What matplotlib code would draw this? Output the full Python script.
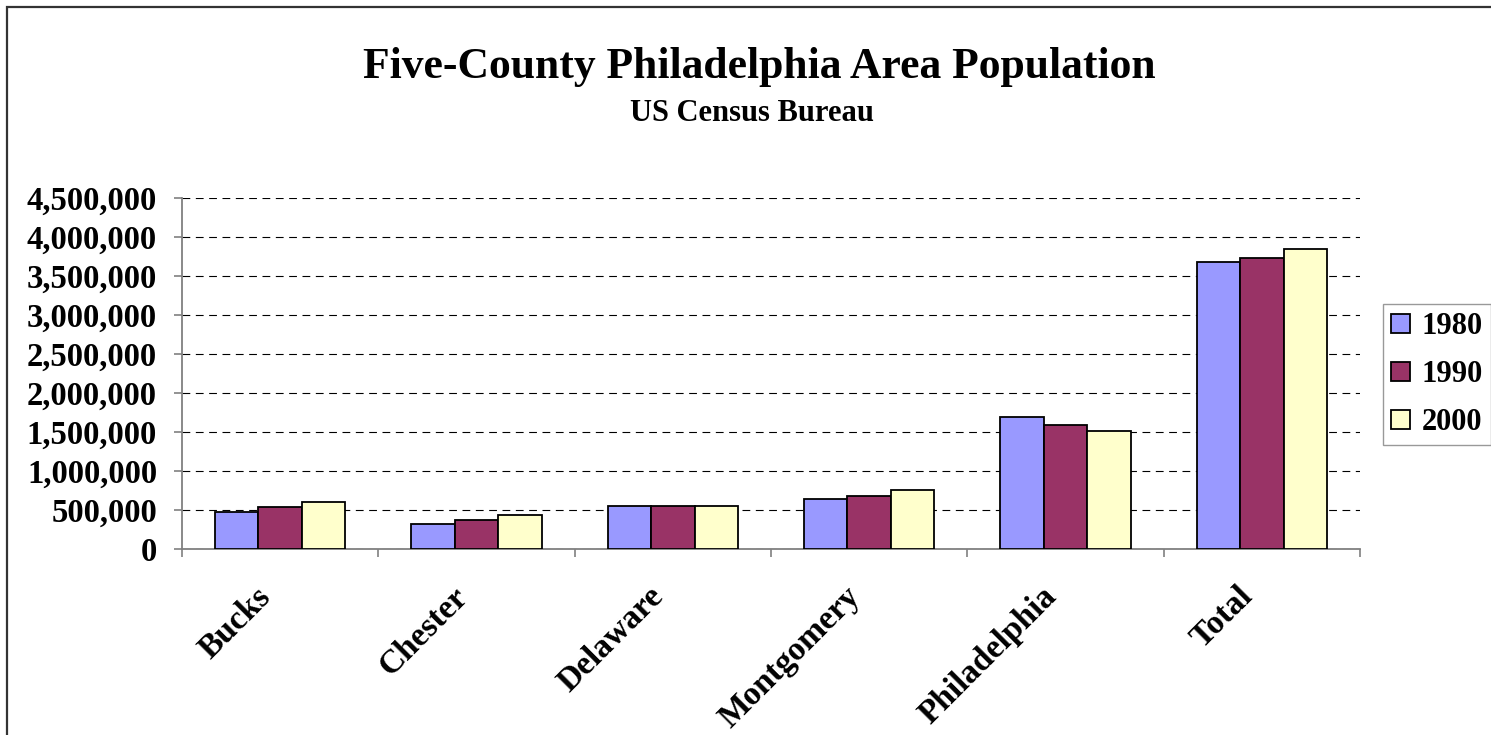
import numpy as np
import matplotlib.pyplot as plt
from matplotlib.patches import Rectangle
from matplotlib.ticker import FuncFormatter, FixedLocator
from matplotlib.transforms import ScaledTranslation

plt.rcParams['font.family'] = ['Liberation Serif', 'DejaVu Serif']
plt.rcParams['font.weight'] = 'bold'

# Data (US Census, five-county Philadelphia area)
counties = ['Bucks', 'Chester', 'Delaware', 'Montgomery', 'Philadelphia', 'Total']
years = ['1980', '1990', '2000']
pop_1980 = [479211, 316660, 555007, 643621, 1688210, 3682709]
pop_1990 = [541174, 376396, 547651, 678111, 1585577, 3728909]
pop_2000 = [597635, 433501, 550864, 750097, 1517550, 3849647]
series = [pop_1980, pop_1990, pop_2000]
colors = ['#9999FF', '#993366', '#FFFFCC']

fig = plt.figure(figsize=(14.91, 7.35), dpi=100)
ax = fig.add_axes([182/1491, 1-549/735, (1360-182)/1491, (549-198)/735])

# outer chart frame (right/bottom edges run off the picture)
fig.patches.append(Rectangle((7/1491, -0.1), 1.2, 1.1 - 7/735, transform=fig.transFigure,
                             fill=False, edgecolor='#333333', lw=1.6, zorder=0))

centers = np.arange(len(counties)) + 0.5
w = 0.221
for k, (vals, col, yr) in enumerate(zip(series, colors, years)):
    ax.bar(centers + (k - 1)*w, vals, width=w, color=col, edgecolor='black',
           linewidth=1.3, label=yr, zorder=3)

ax.set_xlim(0, len(counties))
ax.set_ylim(0, 4500000)
ax.set_yticks(np.arange(0, 4500001, 500000))
ax.yaxis.set_major_formatter(FuncFormatter(lambda v, p: f'{int(v):,}'))
ax.yaxis.grid(True, color='black', linestyle=(0, (7, 5)), linewidth=0.8, zorder=1)

ax.xaxis.set_major_locator(FixedLocator(np.arange(len(counties) + 1)))
ax.set_xticklabels([])
ax.set_xticks(centers, minor=True)
ax.set_xticklabels(counties, minor=True, rotation=45, ha='right', va='top', fontsize=24)
ax.tick_params(axis='x', which='minor', length=0, pad=23)
ax.tick_params(axis='x', which='major', length=6, width=1.2, color='#808080', direction='out')
ax.tick_params(axis='y', length=6, width=1.2, color='#808080', direction='out', pad=12, labelsize=23.5)
shift = ScaledTranslation(-0.03, 0, fig.dpi_scale_trans)
for lab in ax.get_xticklabels(minor=True):
    lab.set_transform(lab.get_transform() + shift)

for s in ['top', 'right']:
    ax.spines[s].set_visible(False)
for s in ['left', 'bottom']:
    ax.spines[s].set_color('#808080')
    ax.spines[s].set_linewidth(1.3)

fig.text(759/1491, 1-78/735, 'Five-County Philadelphia Area Population', ha='center',
         va='baseline', fontsize=31.4, fontweight='bold')
fig.text(752/1491, 1-121/735, 'US Census Bureau', ha='center', va='baseline',
         fontsize=22, fontweight='bold')

leg = fig.legend(loc='upper left', bbox_to_anchor=(1383/1491, 1-304/735), borderaxespad=0,
                 fontsize=22, frameon=True, fancybox=False, handlelength=0.6, handleheight=0.6,
                 handletextpad=0.4, labelspacing=0.62, borderpad=0.27)
leg.get_frame().set_edgecolor('#808080')
leg.get_frame().set_linewidth(1.0)

fig.savefig('out.png', dpi=100)
